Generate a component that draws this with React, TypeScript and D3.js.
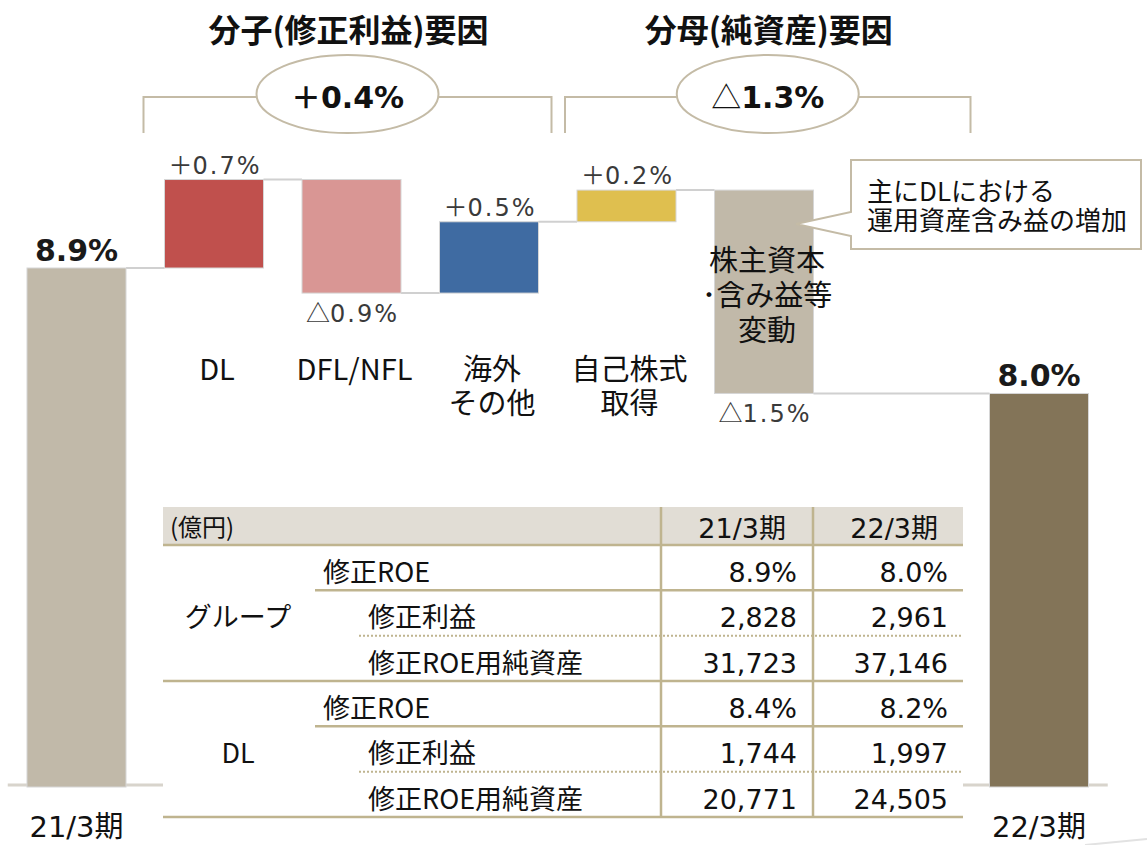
import { useEffect, useRef } from 'react';
import * as d3 from 'd3';

const W = 1147;
const H = 845;

// 修正ROE（期首・期末）
const periods = ['21/3期', '22/3期'];
const periodRoe = [8.9, 7.95];
const periodRoeLabels = ['8.9%', '8.0%'];

// 増減要因
const steps = ['DL', 'DFL/NFL', '海外その他', '自己株式取得', '株主資本等変動'];
const stepLines = [['DL'], ['DFL/NFL'], ['海外', 'その他'], ['自己株式', '取得'], ['株主資本', '･含み益等', '変動']];
const stepDeltas = [0.67, -0.86, 0.54, 0.24, -1.54];
const stepSigns = ['＋', '△', '＋', '＋', '△'];
const stepLabels = ['0.7%', '0.9%', '0.5%', '0.2%', '1.5%'];
const stepColors = ['#c0504d', '#d99694', '#3f6ba2', '#dfbf4f', '#c1b9a9'];

const groupTitles = ['分子(修正利益)要因', '分母(純資産)要因'];
const groupSigns = ['＋', '△'];
const groupTotals = ['0.4%', '1.3%'];

const calloutLines = ['主にDLにおける', '運用資産含み益の増加'];

// 表
const tableUnit = '(億円)';
const tableSections = ['グループ', 'DL'];
const tableItems = ['修正ROE', '修正利益', '修正ROE用純資産'];
const groupFy21 = ['8.9%', '2,828', '31,723'];
const groupFy22 = ['8.0%', '2,961', '37,146'];
const dlFy21 = ['8.4%', '1,744', '20,771'];
const dlFy22 = ['8.2%', '1,997', '24,505'];

const JP = '"Noto Sans CJK JP", "Noto Sans", sans-serif';
const NUM = '"DejaVu Sans", "Noto Sans CJK JP", sans-serif';
const TAN = '#c4bba6';
const RULE = '#bfb48f';

const App = () => {
  const svgRef = useRef<SVGSVGElement>(null);

  useEffect(() => {
    if (!svgRef.current) return;
    const svg = d3.select(svgRef.current);
    svg.selectAll('*').remove();

    const slots = [periods[0], ...steps, 'gap', periods[1]];
    const x = d3.scaleBand()
      .domain(slots)
      .range([7.75, 1107.75])
      .paddingInner(0.28)
      .paddingOuter(0.14);
    const bw = x.bandwidth();
    const y = d3.scaleLinear().domain([4.97, 8.9]).range([787, 268]);
    const yMin = y.domain()[0];

    // waterfall levels
    let level = periodRoe[0];
    const bars = stepDeltas.map((d, i) => {
      const from = level;
      level += d;
      return { key: steps[i], from, to: level, i };
    });

    // baseline
    svg.append('line')
      .attr('x1', x.range()[0]).attr('x2', x.range()[1])
      .attr('y1', y(yMin) - 2).attr('y2', y(yMin) - 2)
      .attr('stroke', '#d8d4cc').attr('stroke-width', 3);

    // connectors
    const conn = [
      { y: y(periodRoe[0]), x1: x(periods[0])! + bw, x2: x(steps[0])! },
      ...bars.map((b, i) => ({
        y: y(b.to),
        x1: x(b.key)! + bw,
        x2: x(i < bars.length - 1 ? steps[i + 1] : periods[1])!,
      })),
    ];
    svg.selectAll('line.conn').data(conn).enter().append('line')
      .attr('x1', d => d.x1).attr('x2', d => d.x2)
      .attr('y1', d => d.y).attr('y2', d => d.y)
      .attr('stroke', '#d0d0d0').attr('stroke-width', 2);

    // period bars
    const periodColors = ['#c1b9a9', '#837458'];
    periods.forEach((p, i) => {
      svg.append('rect')
        .attr('x', x(p)!).attr('width', bw)
        .attr('y', y(periodRoe[i])).attr('height', y(yMin) - y(periodRoe[i]))
        .attr('fill', periodColors[i]).attr('stroke', '#d6d6d6').attr('stroke-width', 1);
      svg.append('text')
        .attr('x', x(p)! + bw / 2).attr('y', y(periodRoe[i]) - 7)
        .attr('text-anchor', 'middle')
        .style('font-family', NUM).style('font-weight', 'bold').style('font-size', '30px')
        .attr('fill', '#1a1a1a')
        .text(periodRoeLabels[i]);
      svg.append('text')
        .attr('x', x(p)! + bw / 2).attr('y', 837)
        .attr('text-anchor', 'middle')
        .style('font-family', NUM).style('font-size', '29px')
        .attr('fill', '#111')
        .text(p);
    });

    // step bars
    svg.selectAll('rect.step').data(bars).enter().append('rect')
      .attr('x', d => x(d.key)!).attr('width', bw)
      .attr('y', d => y(Math.max(d.from, d.to)))
      .attr('height', d => Math.abs(y(d.from) - y(d.to)))
      .attr('fill', d => stepColors[d.i])
      .attr('stroke', '#d6d6d6').attr('stroke-width', 1);

    bars.forEach(b => {
      const up = b.to > b.from;
      const t = svg.append('text')
        .attr('x', x(b.key)! + bw / 2 + 1)
        .attr('y', up ? y(b.to) - 6 : y(b.to) + 29)
        .attr('text-anchor', 'middle')
        .style('font-size', '24px')
        .attr('fill', '#3a3a3a');
      t.append('tspan').style('font-family', JP).text(stepSigns[b.i]);
      t.append('tspan').style('font-family', NUM).style('letter-spacing', '2px').text(stepLabels[b.i]);

      // category label (multi-line as tspans)
      const lines = stepLines[b.i];
      const cx = x(b.key)! + bw / 2 + 3;
      const pitch = lines.length > 2 ? 35 : 34;
      let base = 380;
      if (lines.length > 2) {
        const mid = (y(b.from) + y(b.to)) / 2;
        base = mid + 14.5 - 35;
      }
      const lt = svg.append('text')
        .attr('x', cx).attr('y', base)
        .attr('text-anchor', 'middle')
        .style('font-family', JP).style('font-size', '29px')
        .attr('fill', '#111');
      lines.forEach((ln, k) => {
        lt.append('tspan').attr('x', cx).attr('dy', k === 0 ? 0 : pitch).text(ln);
      });
    });

    // brackets, ellipses, titles
    const groupsX = [
      [x(steps[0])! - 21, x(steps[2])! + bw + 13],
      [x(steps[3])! - 12, x(steps[4])! + bw + 157],
    ];
    groupsX.forEach(([gx1, gx2], i) => {
      const cx = (gx1 + gx2) / 2;
      svg.append('path')
        .attr('d', `M${gx1},133 V97 H${gx2} V133`)
        .attr('fill', 'none').attr('stroke', TAN).attr('stroke-width', 2);
      svg.append('ellipse')
        .attr('cx', cx).attr('cy', 94).attr('rx', 91).attr('ry', 39)
        .attr('fill', '#fff').attr('stroke', TAN).attr('stroke-width', 2);
      const t = svg.append('text')
        .attr('x', cx).attr('y', 108).attr('text-anchor', 'middle')
        .style('font-size', '30px').attr('fill', '#111');
      t.append('tspan').style('font-family', JP)
        .style('font-weight', groupSigns[i] === '＋' ? 'bold' : 'normal').text(groupSigns[i]);
      t.append('tspan').style('font-family', NUM).style('font-weight', 'bold').text(groupTotals[i]);
      svg.append('text')
        .attr('x', cx + 1).attr('y', 42).attr('text-anchor', 'middle')
        .style('font-family', JP).style('font-weight', 'bold').style('font-size', '32px')
        .attr('fill', '#111')
        .text(groupTitles[i]);
    });

    // callout
    svg.append('path')
      .attr('d', 'M851,160 H1141 V249 H851 V236 L796,224 L851,212 Z')
      .attr('fill', '#fff').attr('stroke', TAN).attr('stroke-width', 2);
    const ct = svg.append('text')
      .attr('x', 867).attr('y', 201)
      .style('font-family', JP).style('font-size', '26px')
      .attr('fill', '#111');
    calloutLines.forEach((ln, k) => {
      ct.append('tspan').attr('x', 867).attr('dy', k === 0 ? 0 : 29).text(ln);
    });

    // table
    const tx0 = 163, tx1 = 963, c1 = 661, c2 = 813;
    const row = d3.scaleLinear().domain([0, 6]).range([545, 817]);
    const tg = svg.append('g');
    tg.append('rect').attr('x', tx0).attr('y', 507).attr('width', tx1 - tx0).attr('height', 38)
      .attr('fill', '#e1ddd5');
    tg.append('rect').attr('x', tx0).attr('y', 545).attr('width', tx1 - tx0).attr('height', row(6) - 545)
      .attr('fill', '#fff');

    const hline = (yy: number, xa: number, dotted = false) => {
      tg.append('line')
        .attr('x1', xa).attr('x2', tx1).attr('y1', yy).attr('y2', yy)
        .attr('stroke', RULE).attr('stroke-width', dotted ? 2 : 2.5)
        .attr('stroke-dasharray', dotted ? '2 2' : null);
    };
    hline(545, tx0);
    tableSections.forEach((sec, s) => {
      const b = s * 3;
      hline(row(b + 1), 315);
      hline(row(b + 2), 359, true);
      hline(row(b + 3), tx0);
      tg.append('text')
        .attr('x', 238).attr('y', row(b + 1) + 37).attr('text-anchor', 'middle')
        .style('font-family', JP).style('font-size', '27px').attr('fill', '#111')
        .text(sec);
      const v21 = s === 0 ? groupFy21 : dlFy21;
      const v22 = s === 0 ? groupFy22 : dlFy22;
      tableItems.forEach((item, k) => {
        const by = row(b + k) + 37;
        tg.append('text')
          .attr('x', k === 0 ? 323 : 368).attr('y', by)
          .style('font-family', JP).style('font-size', '27px').attr('fill', '#111')
          .text(item);
        tg.append('text')
          .attr('x', c1 + 136).attr('y', by).attr('text-anchor', 'end')
          .style('font-family', NUM).style('font-size', '27px').attr('fill', '#111')
          .text(v21[k]);
        tg.append('text')
          .attr('x', c2 + 135).attr('y', by).attr('text-anchor', 'end')
          .style('font-family', NUM).style('font-size', '27px').attr('fill', '#111')
          .text(v22[k]);
      });
    });
    [c1, c2].forEach(cx => {
      tg.append('line').attr('x1', cx).attr('x2', cx).attr('y1', 507).attr('y2', row(6))
        .attr('stroke', RULE).attr('stroke-width', 2.5);
    });
    tg.append('text').attr('x', 170).attr('y', 536)
      .style('font-family', JP).style('font-size', '24px').attr('fill', '#111')
      .text(tableUnit);
    periods.forEach((p, i) => {
      tg.append('text')
        .attr('x', (i === 0 ? c1 : c2) + 125).attr('y', 538).attr('text-anchor', 'end')
        .style('font-family', NUM).style('font-size', '27px').attr('fill', '#111')
        .text(p);
    });

    // faint slide decoration, bottom right
    svg.append('line')
      .attr('x1', 1085).attr('y1', 845).attr('x2', 1147).attr('y2', 839)
      .attr('stroke', '#e2e2e2').attr('stroke-width', 2);
  }, []);

  return (
    <div style={{ position: 'absolute', left: 0, top: 0, width: W, height: H, background: '#fff' }}>
      <svg ref={svgRef} width={W} height={H} style={{ display: 'block' }}></svg>
    </div>
  );
};

export default App;
